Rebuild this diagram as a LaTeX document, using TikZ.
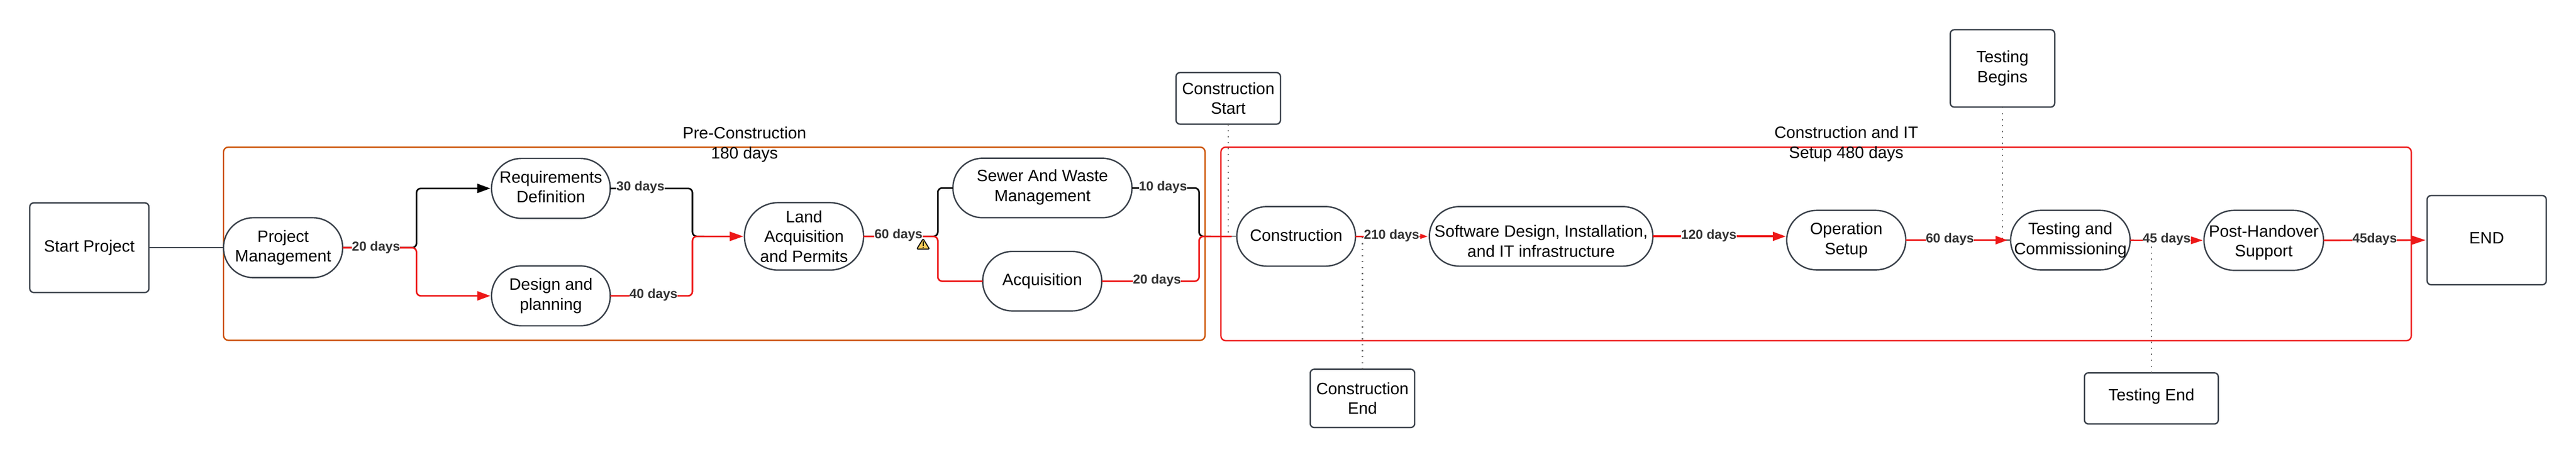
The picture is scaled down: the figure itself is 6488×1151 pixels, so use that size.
\documentclass[tikz,border=0pt]{standalone}
\usepackage{fontspec}
\setmainfont{Liberation Sans}
\usetikzlibrary{arrows.meta,calc}
\definecolor{nodeline}{HTML}{3A414A}
\definecolor{orangeb}{HTML}{CC5200}
\definecolor{redl}{HTML}{ED1818}
\definecolor{labelc}{HTML}{333333}
\definecolor{graydot}{HTML}{666666}
\definecolor{warnfill}{HTML}{FCCE5A}
\tikzset{
  x=1pt,y=-1pt,
  base/.style={draw=nodeline,line width=3.5pt,fill=white,outer sep=0pt,inner sep=0pt,align=center,font=\fontsize{41.5}{50}\selectfont,text=black},
  pill/.style={base,rectangle,rounded corners=75pt},
  tallpill/.style={base,rectangle,rounded corners=85pt},
  boxn/.style={base,rectangle,rounded corners=10pt},
  groupbox/.style={rectangle,rounded corners=12pt,line width=3.5pt,outer sep=0pt,inner sep=0pt},
  title/.style={align=center,inner sep=0pt,font=\fontsize{41.5}{50}\selectfont},
  dayl/.style={fill=white,inner sep=0pt,text=labelc,font=\fontsize{33}{38}\selectfont\bfseries},
  blackl/.style={draw=black,line width=4pt,rounded corners=11pt},
  redc/.style={draw=redl,line width=4pt,rounded corners=11pt},
  dots/.style={draw=graydot,line width=3pt,dash pattern=on 3pt off 12pt},
  stub/.style={draw=graydot,line width=3pt},
  tipb/.style={-{Triangle[length=33pt,width=23pt]},shorten >=3pt},
}
\begin{document}
\begin{tikzpicture}
\path[use as bounding box,fill=white] (0,0) rectangle (6488,1151);
% groups
\node[groupbox,draw=orangeb,minimum width=2472pt,minimum height=487pt] (pre) at (1799,614.5) {};
\node[groupbox,draw=redl,minimum width=2998pt,minimum height=488pt] (cit) at (4574,615) {};
\node[title] (pret) at (1875,364) {Pre-Construction\\180 days};
\node[title] (citt) at (4650,363) {Construction and IT\\Setup 480 days};
% nodes
\node[boxn,minimum width=300pt,minimum height=226pt] (start) at (225,624.5) {Start Project};
\node[pill,minimum width=300pt,minimum height=151pt] (pm) at (713,624.5) {Project\\Management};
\node[pill,minimum width=299pt,minimum height=151pt] (req) at (1387.5,475) {Requirements\\Definition\rule[-8pt]{0pt}{8pt}};
\node[pill,minimum width=299pt,minimum height=151pt] (des) at (1387.5,746) {Design and\\planning};
\node[tallpill,minimum width=300pt,minimum height=170pt] (land) at (2025,596) {Land\\Acquisition\\and Permits};
\node[pill,minimum width=451pt,minimum height=150pt] (sew) at (2625.5,474) {Sewer And Waste\\Management\rule[-12pt]{0pt}{12pt}};
\node[pill,minimum width=300pt,minimum height=150pt] (acq) at (2625,709) {Acquisition};
\node[boxn,minimum width=263pt,minimum height=130pt] (cstart) at (3093.5,248) {Construction\\Start};
\node[pill,minimum width=299pt,minimum height=150pt] (cons) at (3264.5,596) {Construction\rule[-6pt]{0pt}{6pt}};
\node[boxn,minimum width=263pt,minimum height=147pt] (cend) at (3431.5,1004.5) {Construction\\End};
\node[pill,minimum width=563pt,minimum height=150pt] (sw) at (3881.5,596) {\rule{0pt}{54pt}Software Design, Installation,\\and IT infrastructure};
\node[pill,minimum width=300pt,minimum height=150pt] (op) at (4650,605.5) {Operation\\Setup};
\node[boxn,minimum width=263pt,minimum height=195pt] (tbeg) at (5043.5,172.5) {Testing\\Begins};
\node[pill,minimum width=301pt,minimum height=150pt] (test) at (5214.5,605.5) {Testing and\\Commissioning};
\node[boxn,minimum width=337pt,minimum height=129pt] (tend) at (5418.5,1004.5) {Testing End\rule[-19pt]{0pt}{19pt}};
\node[pill,minimum width=301pt,minimum height=151pt] (post) at (5701.5,606) {\rule{0pt}{41pt}Post-Handover\\Support};
\node[boxn,minimum width=300pt,minimum height=225pt] (endn) at (6263,605.5) {END\rule[-10pt]{0pt}{10pt}};
% junction points
\coordinate (j1) at (1049,624.5);
\coordinate (m1) at (1744,596);
\coordinate (j2) at (2362,596);
\coordinate (m2) at (3020,596);
\coordinate (cs) at (3093.5,596);
\coordinate (ce) at (3431.5,596);
\coordinate (tb) at (5043.5,605.5);
\coordinate (te) at (5418.5,605.5);
% dotted markers
\draw[dots] (cstart.south) -- (cs);
\draw[dots] (cend.north) -- (ce);
\draw[dots] (tbeg.south) -- (tb);
\draw[dots] (tend.north) -- (te);
% connectors
\draw[stub,draw=nodeline] (start.east |- pm.west) -- (pm.west);
\draw[blackl,tipb] (pm.east) -- (j1) |- (req.west);
\draw[redc,tipb] (pm.east) -- (j1) |- (des.west);
\draw[blackl] (req.east) -| (m1) -- ([xshift=30pt]m1);
\draw[redc,-{Triangle[length=34pt,width=23pt]},shorten >=3pt] (des.east) -| (m1) -- (land.west);
\draw[blackl] (land.east) -- (j2) |- (sew.west);
\draw[redc] (land.east) -- (j2) |- (acq.west);
\draw[blackl] (sew.east) -| (m2) -- ([xshift=30pt]m2);
\draw[stub] (cs) -- (cons.west);
\draw[redc] (acq.east) -| (m2) -- ([xshift=82pt]m2);
\draw[redc,-{Triangle[length=19pt,width=12pt]},shorten >=4pt] (cons.east) -- (sw.west);
\draw[redc,line width=5.5pt,-{Triangle[length=33pt,width=22pt]},shorten >=2pt] (sw.east) -- (sw.east -| op.west);
\draw[stub] (tb) -- (test.west);
\draw[redc,line width=3pt,-{Triangle[length=30pt,width=21pt]},shorten >=8pt] (op.east) -- (test.west);
\draw[redc,line width=3pt,-{Triangle[length=30pt,width=19pt]},shorten >=3pt] (test.east) -- (post.west);
\draw[redc,-{Triangle[length=36pt,width=23pt]},shorten >=4pt] (post.east) -- (endn.west);
% duration labels
\node[dayl] (l20a) at (947,624) {20 days};
\node[dayl] (l30) at (1613,472) {30 days};
\node[dayl] (l40) at (1646,743) {40 days};
\node[dayl] (l60a) at (2263,593) {60 days};
\node[dayl] (l10) at (2929,472) {10 days};
\node[dayl] (l20b) at (2914,707) {20 days};
\node[dayl] (l210) at (3505,594) {210 days};
\node[dayl] (l120) at (4304,594) {120 days};
\node[dayl] (l60b) at (4911,603) {60 days};
\node[dayl] (l45a) at (5457,603) {45 days};
\node[dayl] (l45b) at (5981,603) {45days};
% warning icon
\draw[black,fill=warnfill,line width=2.5pt,line join=round,rounded corners=3pt] (2325,602) -- (2341,628) -- (2309,628) -- cycle;
\draw[black,line width=2.2pt] (2325,609) -- (2325,620);
\fill[black] (2325,624) circle (1.5pt);
\end{tikzpicture}
\end{document}
